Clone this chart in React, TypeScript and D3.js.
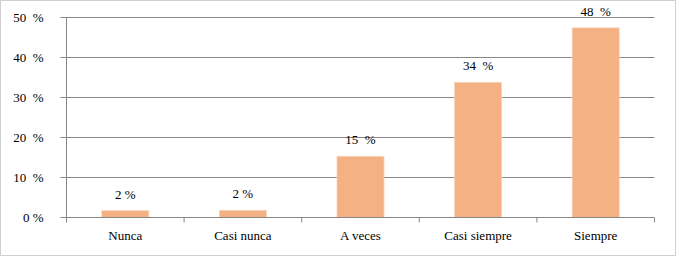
import React from "react";
import * as d3 from "d3";

const categories = ["Nunca", "Casi nunca", "A veces", "Casi siempre", "Siempre"];
const values = [1.7, 1.8, 15.3, 33.8, 47.4];
const valueLabels = ["2 %", "2 %", "15  %", "34  %", "48  %"];
const yTicks = [0, 10, 20, 30, 40, 50];
const yTickLabels = ["0 %", "10  %", "20  %", "30  %", "40  %", "50  %"];

export default function App() {
  const W = 682, H = 261;
  const left = 66.5, right = 654.5, top = 17.5, bottom = 217.5;
  const x = d3.scaleBand<string>().domain(categories).range([left, right]).paddingInner(0.6).paddingOuter(0.3);
  const xb = d3.scaleBand<string>().domain(categories).range([left, right]);
  const y = d3.scaleLinear().domain([0, 50]).range([bottom, top]);
  const ff = "'Liberation Serif'";
  return (
    <svg width={W} height={H} style={{ position: "absolute", left: 0, top: 0 }}>
      <rect x={0.5} y={0.5} width={675} height={255} fill="#fff" stroke="#d0d0d0" />
      {yTicks.map((t, i) => (
        <g key={t}>
          {t > 0 && <line x1={left} x2={right} y1={y(t)} y2={y(t)} stroke="#878787" />}
          <line x1={left - 6} x2={left} y1={y(t)} y2={y(t)} stroke="#878787" />
          <text fontFamily={ff} fontSize={13} style={{ whiteSpace: "pre" }} x={43.5} y={y(t) + 4} textAnchor="end">{yTickLabels[i]}</text>
        </g>
      ))}
      <line x1={left} x2={left} y1={top} y2={bottom} stroke="#878787" />
      {categories.map((c, i) => (
        <g key={c}>
          <rect x={x(c)} y={y(values[i])} width={x.bandwidth()} height={bottom - y(values[i])} fill="#F4B183" stroke="#f8d3b8" strokeWidth={0.75} />
          <text fontFamily={ff} fontSize={13} style={{ whiteSpace: "pre" }} x={x(c)! + x.bandwidth() / 2} y={y(values[i]) - 12} textAnchor="middle">{valueLabels[i]}</text>
          <text fontFamily={ff} fontSize={13} x={xb(c)! + xb.bandwidth() / 2} y={240} textAnchor="middle">{c}</text>
        </g>
      ))}
      <line x1={left} x2={right} y1={bottom} y2={bottom} stroke="#878787" />
      {[...categories.map((c) => xb(c)!), right].map((v, i) => (
        <line key={i} x1={v} x2={v} y1={bottom} y2={bottom + 5} stroke="#878787" />
      ))}
    </svg>
  );
}
